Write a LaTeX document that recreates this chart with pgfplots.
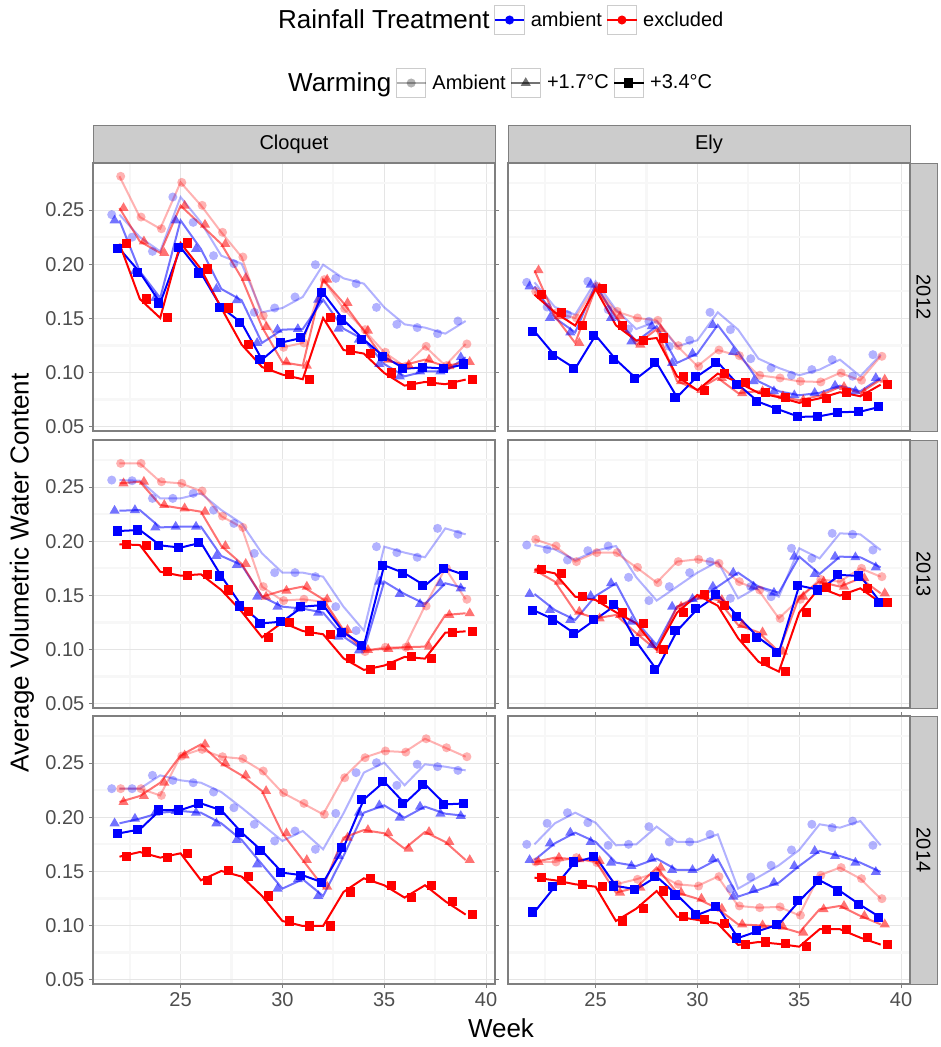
\documentclass[border=0pt]{standalone}
\usepackage{fontspec}
\setmainfont{Liberation Sans}
\usepackage{pgfplots}
\usepackage{pgfplotstable}
\pgfplotsset{compat=1.18}
\definecolor{grey50}{HTML}{7F7F7F}
\definecolor{grey80}{HTML}{CCCCCC}
\definecolor{grey90}{HTML}{E5E5E5}
\definecolor{grey98}{HTML}{F7F7F7}
\definecolor{tickcol}{HTML}{4D4D4D}
\definecolor{ggblue}{HTML}{0000FF}
\definecolor{ggred}{HTML}{FF0000}
\newcommand{\smallf}{\fontsize{15}{18}\selectfont}
\newcommand{\bigf}{\fontsize{19.5}{23}\selectfont}

% Cloquet 2012
\pgfplotstableread{
w  ac     at     as     ec     et     es
22 0.2458 0.2405 0.2144 0.2812 0.2519 0.2190
23 0.2250 0.1935 0.1925 0.2436 0.2211 0.1679
24 0.2119 0.1689 0.1642 0.2328 0.2104 0.1504
25 0.2621 0.2405 0.2156 0.2756 0.2541 0.2196
26 0.2387 0.2141 0.1919 0.2544 0.2365 0.1956
27 0.2079 0.1772 0.1602 0.2295 0.2187 0.1596
28 0.2005 0.1667 0.1458 0.2067 0.1873 0.1258
29 0.1556 0.1273 0.1119 0.1525 0.1421 0.1051
30 0.1596 0.1396 0.1279 0.1233 0.1095 0.0981
31 0.1698 0.1402 0.1322 0.1273 0.1064 0.0938
32 0.1996 0.1673 0.1735 0.1858 0.1858 0.1504
33 0.1870 0.1405 0.1485 0.1590 0.1642 0.1208
34 0.1821 0.1304 0.1304 0.1396 0.1387 0.1175
35 0.1602 0.1079 0.1144 0.1187 0.1119 0.0996
36 0.1445 0.0965 0.1036 0.1058 0.1070 0.0879
37 0.1415 0.1011 0.1048 0.1242 0.1119 0.0913
38 0.1359 0.1011 0.1036 0.1064 0.1058 0.0892
39 0.1476 0.1141 0.1079 0.1264 0.1098 0.0935
}\tCA
% Ely 2012
\pgfplotstableread{
w  ac     at     as     ec     et     es
22 0.1833 0.1796 0.1381 0.1750 0.1944 0.1719
23 0.1605 0.1504 0.1156 0.1550 0.1520 0.1556
24 0.1535 0.1371 0.1036 0.1504 0.1273 0.1433
25 0.1842 0.1812 0.1344 0.1796 0.1780 0.1772
26 0.1581 0.1504 0.1119 0.1565 0.1520 0.1436
27 0.1402 0.1288 0.0944 0.1504 0.1258 0.1295
28 0.1473 0.1427 0.1089 0.1482 0.1400 0.1319
29 0.1242 0.1089 0.0772 0.1248 0.0920 0.0966
30 0.1298 0.1175 0.0966 0.1058 0.0840 0.0836
31 0.1556 0.1439 0.1095 0.1208 0.0950 0.0990
32 0.1396 0.1190 0.0888 0.1156 0.0810 0.0910
33 0.1128 0.0919 0.0729 0.0975 0.0827 0.0812
34 0.1042 0.0827 0.0658 0.0950 0.0781 0.0772
35 0.0975 0.0790 0.0590 0.0919 0.0744 0.0720
36 0.1027 0.0812 0.0596 0.0913 0.0787 0.0762
37 0.1119 0.0879 0.0633 0.0996 0.0867 0.0818
38 0.0966 0.0827 0.0639 0.0929 0.0812 0.0781
39 0.1165 0.0950 0.0685 0.1150 0.0935 0.0888
}\tEA
% Cloquet 2013
\pgfplotstableread{
w  ac     at     as     ec     et     es
22 0.2565 0.2282 0.2095 0.2719 0.2535 0.1972
23 0.2559 0.2288 0.2104 0.2719 0.2550 0.1965
24 0.2396 0.2128 0.1962 0.2550 0.2335 0.1719
25 0.2396 0.2135 0.1941 0.2535 0.2304 0.1682
26 0.2442 0.2135 0.1987 0.2464 0.2273 0.1695
27 0.2288 0.1864 0.1679 0.2232 0.1956 0.1550
28 0.2165 0.1781 0.1402 0.2128 0.1791 0.1350
29 0.1888 0.1488 0.1242 0.1581 0.1488 0.1113
30 0.1710 0.1396 0.1258 0.1452 0.1544 0.1250
31 0.1710 0.1378 0.1396 0.1464 0.1581 0.1171
32 0.1673 0.1341 0.1411 0.1442 0.1464 0.1141
33 0.1396 0.1119 0.1159 0.1165 0.1181 0.0919
34 0.1175 0.0991 0.1036 0.0981 0.0996 0.0812
35 0.1950 0.1627 0.1778 0.1021 0.1005 0.0852
36 0.1895 0.1513 0.1704 0.1021 0.1021 0.0932
37 0.1852 0.1421 0.1590 0.1402 0.1027 0.0916
38 0.2119 0.1612 0.1750 0.1750 0.1319 0.1156
39 0.2064 0.1565 0.1685 0.1464 0.1335 0.1168
}\tCB
% Ely 2013
\pgfplotstableread{
w  ac     at     as     ec     et     es
22 0.1965 0.1513 0.1359 0.2018 0.1735 0.1741
23 0.1925 0.1365 0.1273 0.1956 0.1627 0.1704
24 0.1827 0.1273 0.1144 0.1812 0.1350 0.1488
25 0.1913 0.1495 0.1279 0.1895 0.1288 0.1458
26 0.1956 0.1612 0.1412 0.1895 0.1319 0.1344
27 0.1667 0.1258 0.1073 0.1759 0.1150 0.1242
28 0.1452 0.1042 0.0812 0.1618 0.0996 0.1002
29 0.1581 0.1396 0.1172 0.1812 0.1396 0.1341
30 0.1710 0.1467 0.1375 0.1833 0.1488 0.1504
31 0.1812 0.1581 0.1504 0.1796 0.1458 0.1405
32 0.1473 0.1710 0.1304 0.1627 0.1227 0.1104
33 0.1581 0.1581 0.1110 0.1550 0.1159 0.0888
34 0.1488 0.1525 0.0972 0.1288 0.0981 0.0796
35 0.1935 0.1858 0.1590 0.1464 0.1488 0.1341
36 0.1842 0.1698 0.1550 0.1648 0.1627 0.1572
37 0.2073 0.1858 0.1689 0.1627 0.1581 0.1498
38 0.2064 0.1852 0.1679 0.1750 0.1658 0.1565
39 0.1919 0.1759 0.1433 0.1673 0.1519 0.1433
}\tEB
% Cloquet 2014
\pgfplotstableread{
w  ac     at     as     ec     et     es
22 0.2264 0.1944 0.1852 0.2264 0.2141 0.1636
23 0.2264 0.1987 0.1888 0.2264 0.2196 0.1679
24 0.2387 0.2042 0.2067 0.2202 0.2319 0.1627
25 0.2341 0.2058 0.2067 0.2565 0.2571 0.1667
26 0.2319 0.2042 0.2128 0.2627 0.2673 0.1418
27 0.2233 0.1944 0.2064 0.2559 0.2498 0.1504
28 0.2088 0.1790 0.1858 0.2541 0.2387 0.1452
29 0.1935 0.1565 0.1689 0.2427 0.2242 0.1273
30 0.1781 0.1341 0.1488 0.2227 0.1852 0.1042
31 0.1873 0.1427 0.1464 0.2128 0.1605 0.0996
32 0.1704 0.1273 0.1396 0.2027 0.1359 0.0996
33 0.2036 0.1642 0.1719 0.2365 0.1812 0.1310
34 0.2412 0.2042 0.2165 0.2550 0.1882 0.1436
35 0.2504 0.2110 0.2328 0.2612 0.1852 0.1372
36 0.2295 0.1996 0.2128 0.2602 0.1710 0.1258
37 0.2489 0.2098 0.2304 0.2725 0.1864 0.1372
38 0.2467 0.2033 0.2119 0.2642 0.1772 0.1224
39 0.2433 0.2012 0.2128 0.2559 0.1605 0.1101
}\tCC
% Ely 2014
\pgfplotstableread{
w  ac     at     as     ec     et     es
22 0.1750 0.1605 0.1125 0.1587 0.1587 0.1442
23 0.1944 0.1759 0.1359 0.1587 0.1627 0.1418
24 0.2042 0.1858 0.1587 0.1627 0.1612 0.1381
25 0.1950 0.1772 0.1636 0.1581 0.1596 0.1359
26 0.1741 0.1581 0.1365 0.1381 0.1304 0.1042
27 0.1750 0.1550 0.1335 0.1427 0.1350 0.1156
28 0.1913 0.1618 0.1452 0.1488 0.1535 0.1319
29 0.1772 0.1513 0.1282 0.1381 0.1304 0.1082
30 0.1772 0.1513 0.1098 0.1365 0.1248 0.1052
31 0.1842 0.1612 0.1172 0.1452 0.1156 0.1018
32 0.1341 0.1267 0.0885 0.1181 0.1011 0.0821
33 0.1448 0.1329 0.0950 0.1165 0.1002 0.0848
34 0.1556 0.1396 0.1011 0.1172 0.0990 0.0830
35 0.1698 0.1550 0.1227 0.1095 0.0935 0.0805
36 0.1935 0.1689 0.1418 0.1464 0.1150 0.0966
37 0.1904 0.1642 0.1319 0.1535 0.1181 0.0966
38 0.1965 0.1581 0.1190 0.1433 0.1089 0.0888
39 0.1741 0.1495 0.1073 0.1248 0.1011 0.0824
}\tEC

\newcommand{\ser}[6]{%
  \addplot[draw=#4, draw opacity=#5, line width=1.5pt, mark=none] table[x=w, y=#2]{#1};
  \addplot[only marks, color=#4, #6, mark options={draw=#4, fill=#4, draw opacity=0, fill opacity=#5}] table[x expr=\thisrow{w}#3, y=#2]{#1};
}
\newcommand{\allser}[1]{%
  \ser{#1}{ac}{-0.38}{ggblue}{0.3}{mark=*, mark size=3.4pt}
  \ser{#1}{ec}{+0.06}{ggred}{0.3}{mark=*, mark size=3.4pt}
  \ser{#1}{at}{-0.24}{ggblue}{0.55}{mark=triangle*, mark size=4.4pt}
  \ser{#1}{et}{+0.20}{ggred}{0.55}{mark=triangle*, mark size=4.4pt}
  \ser{#1}{as}{-0.10}{ggblue}{1}{mark=square*, mark size=3.4pt}
  \ser{#1}{es}{+0.34}{ggred}{1}{mark=square*, mark size=3.4pt}
}

\pgfplotsset{
  panel/.style={scale only axis, width=301.5pt, height=201pt, anchor=north west,
    xmin=20.7, xmax=40.44, ymin=0.046, ymax=0.2935,
    xtick={25,30,35,40}, ytick={0.05,0.1,0.15,0.2,0.25},
    minor xtick={22.5,27.5,32.5,37.5}, minor ytick={0.075,0.125,0.175,0.225,0.275},
    grid=both,
    major grid style={draw=grey90, line width=0.7pt},
    minor grid style={draw=grey98, line width=1.7pt},
    axis line style={draw=grey50, line width=1pt},
    tick align=outside, major tick length=3pt, minor tick length=0pt,
    tick style={draw=grey50, line width=0.8pt},
    xticklabels={}, yticklabels={},
    tick label style={font=\smallf, text=tickcol},
  },
  leftcol/.style={yticklabels={0.05,0.10,0.15,0.20,0.25}},
  rightcol/.style={every major y tick/.append style={draw=none}},
  bottomrow/.style={xticklabels={25,30,35,40}},
  toprow/.style={every major x tick/.append style={draw=none}},
  boxkey/.style={legend image code/.code={
    \draw[draw=grey80, fill=white, line width=0.8pt, draw opacity=1, fill opacity=1] (0pt,-11pt) rectangle (22pt,11pt);
    \draw[mark repeat=2, mark phase=2] plot coordinates {(0pt,0pt) (11pt,0pt) (22pt,0pt)};
  }},
  legaxis/.style={hide axis, scale only axis, width=1pt, height=1pt, anchor=center,
    xmin=0, xmax=1, ymin=0, ymax=1,
    legend style={at={(0,0.5)}, anchor=west, draw=none, fill=none, font=\smallf,
      legend columns=-1, inner sep=0pt,
      /tikz/every even column/.append style={column sep=1.2pt},
      /tikz/every odd column/.append style={column sep=2.2pt}},
    legend cell align=left},
}

\begin{document}
\begin{tikzpicture}
\begin{scope}[x=0.75pt, y=-0.75pt]
  \path (0,0) rectangle (940,1047);
  % top strips
  \draw[fill=grey80, draw=grey50, line width=0.5pt] (93,125) rectangle (495,163);
  \node[font=\smallf] at (294,144.5) {Cloquet};
  \draw[fill=grey80, draw=grey50, line width=0.5pt] (508,125) rectangle (910,163);
  \node[font=\smallf] at (709,144.5) {Ely};
  % right strips
  \draw[fill=grey80, draw=grey50, line width=0.5pt] (910,163) rectangle (937,431);
  \node[font=\smallf, rotate=-90] at (923.5,297) {2012};
  \draw[fill=grey80, draw=grey50, line width=0.5pt] (910,440) rectangle (937,708);
  \node[font=\smallf, rotate=-90] at (923.5,574) {2013};
  \draw[fill=grey80, draw=grey50, line width=0.5pt] (910,716) rectangle (937,984);
  \node[font=\smallf, rotate=-90] at (923.5,850) {2014};
  % axis titles
  \node[font=\bigf, rotate=90] at (22,573) {Average Volumetric Water Content};
  \node[font=\bigf] at (501,1028) {Week};
\end{scope}

% panels
\begin{axis}[panel, leftcol, toprow, at={(69.75pt,-122.25pt)}]
\allser{\tCA}
\end{axis}
\begin{axis}[panel, rightcol, toprow, at={(381pt,-122.25pt)}]
\allser{\tEA}
\end{axis}
\begin{axis}[panel, leftcol, toprow, at={(69.75pt,-330pt)}]
\allser{\tCB}
\end{axis}
\begin{axis}[panel, rightcol, toprow, at={(381pt,-330pt)}]
\allser{\tEB}
\end{axis}
\begin{axis}[panel, leftcol, bottomrow, at={(69.75pt,-537pt)}]
\allser{\tCC}
\end{axis}
\begin{axis}[panel, rightcol, bottomrow, at={(381pt,-537pt)}]
\allser{\tEC}
\end{axis}

% legend row 1
\begin{axis}[legaxis, at={(204.75pt,-15pt)}]
\addlegendimage{empty legend}\addlegendentry{\bigf Rainfall Treatment}
\addlegendimage{boxkey, color=ggblue, line width=1.5pt, mark=*, mark size=3.4pt, mark options={draw opacity=0, fill=ggblue}}\addlegendentry{ambient}
\addlegendimage{boxkey, color=ggred, line width=1.5pt, mark=*, mark size=3.4pt, mark options={draw opacity=0, fill=ggred}}\addlegendentry{excluded}
\end{axis}
% legend row 2
\begin{axis}[legaxis, at={(212.25pt,-62.25pt)}]
\addlegendimage{empty legend}\addlegendentry{\bigf Warming}
\addlegendimage{boxkey, color=black, draw opacity=0.3, line width=1.5pt, mark=*, mark size=3.4pt, mark options={draw opacity=0, fill=black, fill opacity=0.3}}\addlegendentry{Ambient}
\addlegendimage{boxkey, color=black, draw opacity=0.55, line width=1.5pt, mark=triangle*, mark size=4.4pt, mark options={draw opacity=0, fill=black, fill opacity=0.55}}\addlegendentry{+1.7°C}
\addlegendimage{boxkey, color=black, line width=1.5pt, mark=square*, mark size=3.4pt, mark options={draw opacity=0, fill=black}}\addlegendentry{+3.4°C}
\end{axis}
\end{tikzpicture}
\end{document}
